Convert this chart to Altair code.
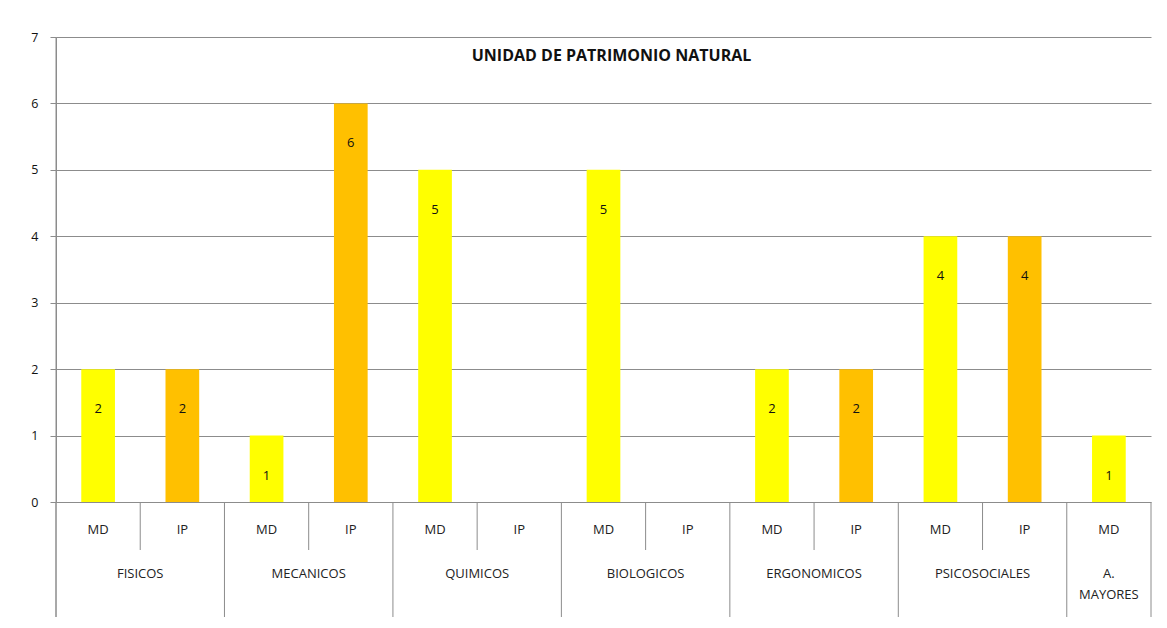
import altair as alt
import pandas as pd

title_text = "UNIDAD DE PATRIMONIO NATURAL"
groups = ["FISICOS", "MECANICOS", "QUIMICOS", "BIOLOGICOS", "ERGONOMICOS", "PSICOSOCIALES", "A. MAYORES"]
subs = [["MD", "IP"], ["MD", "IP"], ["MD", "IP"], ["MD", "IP"], ["MD", "IP"], ["MD", "IP"], ["MD"]]
values = [[2, 2], [1, 6], [5, None], [5, None], [2, 2], [4, 4], [1]]
colors = {"MD": "#FFFF00", "IP": "#FFC000"}
y_ticks = [0, 1, 2, 3, 4, 5, 6, 7]

FONT = "Open Sans"
W, H = 1095, 465
GRID = "#8c8c8c"

rows, group_rows, sep_rows = [], [], []
i = 0
for g, ss, vs in zip(groups, subs, values):
    start = i
    sep_rows.append({"pos": start, "kind": "group"})
    for s, v in zip(ss, vs):
        rows.append({"group": g, "sub": s, "value": v, "x0": i + 0.3, "x1": i + 0.7, "xc": i + 0.5})
        if i > start:
            sep_rows.append({"pos": i, "kind": "sub"})
        i += 1
    group_rows.append({"group": g, "xc": (start + i) / 2})
sep_rows.append({"pos": i, "kind": "group"})
n_slots = i

df = pd.DataFrame(rows)
gdf = pd.DataFrame(group_rows)
sdf = pd.DataFrame(sep_rows)

xscale = alt.Scale(domain=[0, n_slots], nice=False, zero=False, padding=0)
yscale = alt.Scale(domain=[0, 7], nice=False, padding=0)

base = alt.Chart(df)

bars = base.transform_filter("datum.value != null").mark_bar(orient="vertical").encode(
    x=alt.X("x0:Q", scale=xscale, axis=None),
    x2="x1:Q",
    y=alt.Y("value:Q", scale=yscale,
            axis=alt.Axis(values=y_ticks, format="d", grid=True, gridColor=GRID, domainColor=GRID,
                          tickColor=GRID, tickSize=6, labelPadding=12, title=None,
                          labelFontSize=12.5, labelFont=FONT, labelColor="#111111")),
    y2=alt.datum(0),
    color=alt.Color("sub:N", scale=alt.Scale(domain=list(colors.keys()), range=list(colors.values())), legend=None),
)

bar_labels = base.transform_filter("datum.value != null").mark_text(
    font=FONT, fontSize=13, color="#111111", baseline="middle", dy=40
).encode(
    x=alt.X("xc:Q", scale=xscale),
    y=alt.Y("value:Q", scale=yscale),
    text="value:Q",
)

sub_labels = base.mark_text(font=FONT, fontSize=13, color="#222222", baseline="middle").encode(
    x=alt.X("xc:Q", scale=xscale),
    y=alt.value(H + 28),
    text="sub:N",
)

group_labels = alt.Chart(gdf).mark_text(
    font=FONT, fontSize=13, color="#222222", baseline="top", lineBreak=" ", lineHeight=21
).encode(
    x=alt.X("xc:Q", scale=xscale),
    y=alt.value(H + 66),
    text="group:N",
)

sub_seps = alt.Chart(sdf).transform_filter("datum.kind == 'sub'").mark_rule(color=GRID).encode(
    x=alt.X("pos:Q", scale=xscale),
    y=alt.value(H),
    y2=alt.value(H + 48),
)
group_seps = alt.Chart(sdf).transform_filter("datum.kind == 'group'").mark_rule(color=GRID).encode(
    x=alt.X("pos:Q", scale=xscale),
    y=alt.value(H),
    y2=alt.value(H + 115),
)

left_axis = alt.Chart(pd.DataFrame({"v": [0]})).mark_rule(color=GRID).encode(
    x=alt.value(0), y=alt.value(0), y2=alt.value(H + 115)
)

title = alt.Chart(pd.DataFrame({"t": [title_text]})).mark_text(
    font=FONT, fontSize=16, fontWeight="bold", color="#111111", baseline="middle"
).encode(
    x=alt.value(W / 2 + 8),
    y=alt.value(19),
    text="t:N",
)

chart = alt.layer(bars, bar_labels, sub_seps, group_seps, left_axis, sub_labels, group_labels, title).properties(
    width=W, height=H,
    autosize=alt.AutoSizeParams(type="none"),
    padding={"left": 48, "top": 29, "right": 8, "bottom": 118},
    background="white",
).configure_view(stroke=None)

chart.save("out.html", embed_options={"renderer": "svg", "actions": False})
